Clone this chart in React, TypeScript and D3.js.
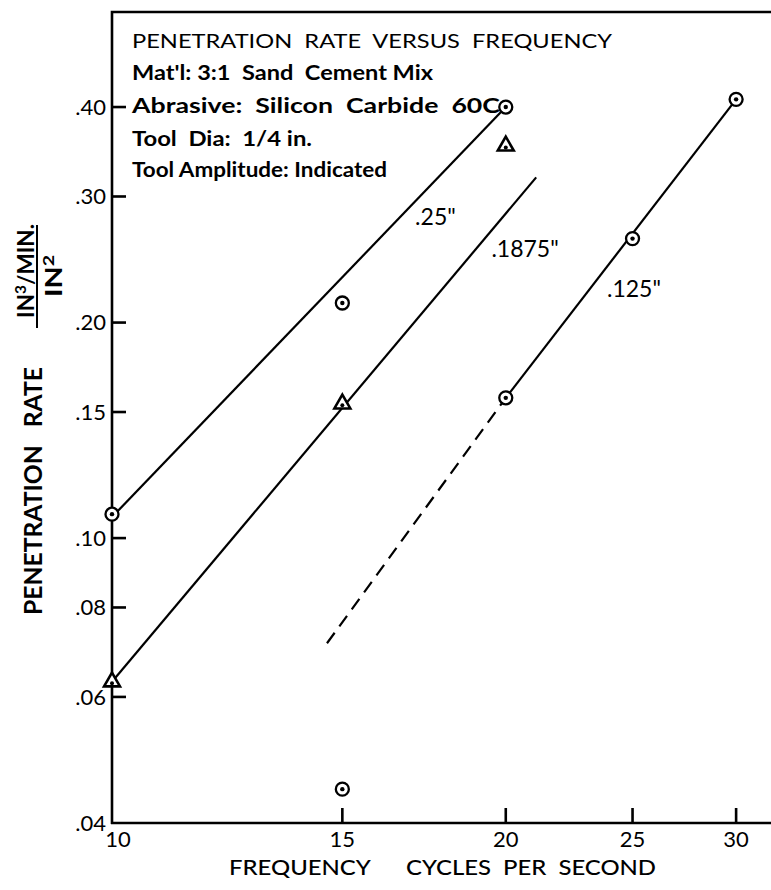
import React, { useEffect, useRef } from 'react';
import * as d3 from 'd3';

// frequency (cycles per second) and penetration rate (in3/min / in2)
const freqTicks = [10, 15, 20, 25, 30];
const rateTicks = [0.04, 0.06, 0.08, 0.1, 0.15, 0.2, 0.3, 0.4];
const rateTickLabels = ['.04', '.06', '.08', '.10', '.15', '.20', '.30', '.40'];

// measured points per tool amplitude
const freq25 = [10, 15, 20];
const rate25 = [0.108, 0.213, 0.4];
const freq1875 = [10, 15, 20];
const rate1875 = [0.063, 0.154, 0.353];
const freq125 = [15, 20, 25, 30];
const rate125 = [0.0446, 0.157, 0.262, 0.41];

// hand-drawn fit lines
const fit25Freq = [10, 20];
const fit25Rate = [0.107, 0.4];
const fit1875Freq = [10, 21.1];
const fit1875Rate = [0.063, 0.319];
const fit125Freq = [20, 30];
const fit125Rate = [0.157, 0.41];
const dash125Freq = [14.6, 19.9];
const dash125Rate = [0.0713, 0.155];

const ampLabels = ['.25"', '.1875"', '.125"'];
const ampLabelFreq = [17.05, 19.5, 23.9];
const ampLabelRate = [0.274, 0.247, 0.217];

const noteLines = [
  'PENETRATION  RATE  VERSUS  FREQUENCY',
  "Mat'l: 3:1  Sand  Cement Mix",
  'Abrasive:  Silicon  Carbide  60C',
  'Tool  Dia:  1/4 in.',
  'Tool Amplitude: Indicated',
];

const W = 771;
const H = 890;
const FONT = 'Lato, "DejaVu Sans", sans-serif';

const Chart = () => {
  const ref = useRef<SVGSVGElement>(null);

  useEffect(() => {
    document.body.style.margin = '0';
    const margin = { top: 12, right: 0, bottom: 67, left: 112 };
    const svg = d3.select(ref.current);
    svg.selectAll('*').remove();

    const x = d3.scaleLog().domain([10, 31.9]).range([margin.left, W - margin.right]);
    const y = d3.scaleLog().domain([0.04, 0.543]).range([H - margin.bottom, margin.top]);
    const x0 = margin.left;
    const y0 = H - margin.bottom;

    // frame
    const p = d3.path();
    p.moveTo(x0, y0 + 1);
    p.lineTo(x0, margin.top);
    p.lineTo(W, margin.top);
    p.moveTo(x0 - 1, y0);
    p.lineTo(W, y0);
    svg
      .append('path')
      .attr('d', p.toString())
      .attr('fill', 'none')
      .attr('stroke', '#000')
      .attr('stroke-width', 2.6);

    // inward ticks
    svg
      .append('g')
      .selectAll('rect')
      .data(rateTicks.slice(1))
      .enter()
      .append('rect')
      .attr('x', x0)
      .attr('y', (d) => y(d) - 1.3)
      .attr('width', 14)
      .attr('height', 2.6)
      .attr('fill', '#000');
    svg
      .append('g')
      .selectAll('rect')
      .data(freqTicks.slice(1))
      .enter()
      .append('rect')
      .attr('x', (d) => x(d) - 1.3)
      .attr('y', y0 - 15)
      .attr('width', 2.6)
      .attr('height', 15)
      .attr('fill', '#000');

    // tick labels
    svg
      .append('g')
      .attr('font-family', FONT)
      .attr('font-size', 22)
      .attr('text-anchor', 'end')
      .selectAll('text')
      .data(rateTicks)
      .enter()
      .append('text')
      .attr('x', x0 - 6)
      .attr('y', (d) => y(d))
      .attr('dy', '0.36em')
      .text((_, i) => rateTickLabels[i]);
    svg
      .append('g')
      .attr('font-family', FONT)
      .attr('font-size', 22)
      .attr('text-anchor', 'middle')
      .selectAll('text')
      .data(freqTicks)
      .enter()
      .append('text')
      .attr('x', (d) => x(d) + (d === 10 ? 6 : 0))
      .attr('y', y0 + 24)
      .text((d) => d3.format('d')(d));

    // axis titles
    svg
      .append('text')
      .attr('x', 229)
      .attr('y', 875)
      .attr('font-family', FONT)
      .attr('font-size', 22)
      .attr('font-weight', 500)
      .attr('textLength', 427)
      .attr('lengthAdjust', 'spacingAndGlyphs')
      .style('white-space', 'pre')
      .text('FREQUENCY      CYCLES  PER  SECOND');

    svg
      .append('text')
      .attr('transform', 'translate(42,491) rotate(-90)')
      .attr('text-anchor', 'middle')
      .attr('font-family', FONT)
      .attr('font-size', 24)
      .attr('font-weight', 700)
      .attr('textLength', 248)
      .attr('lengthAdjust', 'spacingAndGlyphs')
      .style('white-space', 'pre')
      .text('PENETRATION   RATE');

    const num = svg
      .append('text')
      .attr('transform', 'translate(34,271) rotate(-90)')
      .attr('text-anchor', 'middle')
      .attr('font-family', FONT)
      .attr('font-size', 22)
      .attr('font-weight', 700)
      .attr('textLength', 94)
      .attr('lengthAdjust', 'spacingAndGlyphs');
    num.append('tspan').text('IN');
    num.append('tspan').attr('font-size', 15).attr('dy', -8).text('3');
    num.append('tspan').attr('dy', 8).text('/MIN.');
    svg
      .append('line')
      .attr('x1', 37)
      .attr('x2', 37)
      .attr('y1', 225)
      .attr('y2', 328)
      .attr('stroke', '#000')
      .attr('stroke-width', 2);
    const den = svg
      .append('text')
      .attr('transform', 'translate(62,276) rotate(-90)')
      .attr('text-anchor', 'middle')
      .attr('font-family', FONT)
      .attr('font-size', 22)
      .attr('font-weight', 700)
      .attr('textLength', 42)
      .attr('lengthAdjust', 'spacingAndGlyphs');
    den.append('tspan').text('IN');
    den.append('tspan').attr('font-size', 15).attr('dy', -8).text('2');

    // notes block
    const noteY = [48, 80, 113, 146, 177];
    const noteLen = [480, 301, 368, 180, 255];
    svg
      .append('g')
      .attr('font-family', FONT)
      .attr('font-size', 20)
      .selectAll('text')
      .data(noteLines)
      .enter()
      .append('text')
      .style('white-space', 'pre')
      .attr('x', 132)
      .attr('y', (_, i) => noteY[i])
      .attr('font-weight', (_, i) => (i === 0 ? 400 : 700))
      .attr('textLength', (_, i) => noteLen[i])
      .attr('lengthAdjust', 'spacingAndGlyphs')
      .text((d) => d);

    // fit lines
    const line = d3
      .line<[number, number]>()
      .x((d) => x(d[0]))
      .y((d) => y(d[1]));
    const fits = [
      { f: fit25Freq, r: fit25Rate, dash: null },
      { f: fit1875Freq, r: fit1875Rate, dash: null },
      { f: fit125Freq, r: fit125Rate, dash: null },
      { f: dash125Freq, r: dash125Rate, dash: '13,8' },
    ];
    svg
      .append('g')
      .selectAll('path')
      .data(fits)
      .enter()
      .append('path')
      .attr('d', (d) => line(d.f.map((v, i) => [v, d.r[i]] as [number, number])))
      .attr('fill', 'none')
      .attr('stroke', '#000')
      .attr('stroke-width', 2.2)
      .attr('stroke-dasharray', (d) => d.dash);

    // markers
    const circles = [
      ...freq25.map((f, i) => [f, rate25[i]]),
      ...freq125.map((f, i) => [f, rate125[i]]),
    ];
    const cg = svg
      .append('g')
      .selectAll('g')
      .data(circles)
      .enter()
      .append('g')
      .attr('transform', (d) => `translate(${x(d[0])},${y(d[1])})`);
    cg.append('circle').attr('r', 6.5).attr('fill', '#fff').attr('stroke', '#000').attr('stroke-width', 2.3);
    cg.append('circle').attr('r', 2.2).attr('fill', '#000');

    const tri = d3.symbol().type(d3.symbolTriangle).size(110);
    const tg = svg
      .append('g')
      .selectAll('g')
      .data(freq1875.map((f, i) => [f, rate1875[i]]))
      .enter()
      .append('g')
      .attr('transform', (d) => `translate(${x(d[0])},${y(d[1])})`);
    tg.append('path').attr('d', tri()).attr('fill', '#fff').attr('stroke', '#000').attr('stroke-width', 2.6);
    tg.append('circle').attr('cy', 1.5).attr('r', 2).attr('fill', '#000');

    // amplitude labels
    svg
      .append('g')
      .attr('font-family', FONT)
      .attr('font-size', 23)
      .selectAll('text')
      .data(ampLabels)
      .enter()
      .append('text')
      .attr('x', (_, i) => x(ampLabelFreq[i]))
      .attr('y', (_, i) => y(ampLabelRate[i]))
      .text((d) => d);
  }, []);

  return <svg ref={ref} width={W} height={H} style={{ display: 'block', background: '#fff' }} />;
};

export default function App() {
  return <Chart />;
}
